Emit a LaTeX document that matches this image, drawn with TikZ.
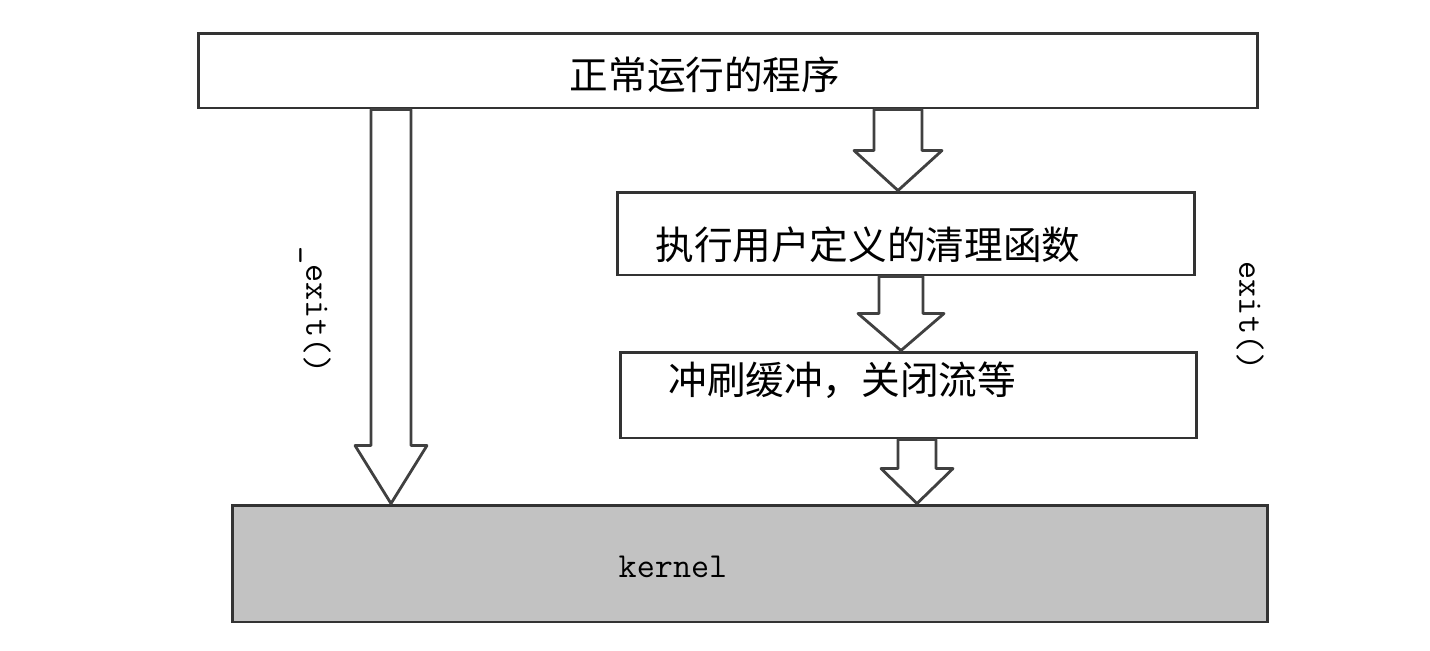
\documentclass[tikz,border=0pt]{standalone}
\usepackage{fontspec}
\newfontfamily\cjk{Noto Sans CJK SC}
\usetikzlibrary{calc}

\tikzset{
  stagebox/.style={draw=black!80, line width=1.7pt, fill=white, inner sep=0pt},
  kernelbox/.style={stagebox, fill=black!24},
  cjktext/.style={font=\cjk\fontsize{22}{26}\selectfont, inner sep=0pt},
  codetext/.style={font=\ttfamily\fontsize{20}{24}\selectfont, inner sep=0pt},
  fatarrow/.style={draw=black!75, line width=1.6pt, fill=white, line join=round}
}

\begin{document}
\begin{tikzpicture}[x=0.02cm, y=-0.02cm]
\useasboundingbox (0,0) rectangle (1430,650);
% stages
\node[stagebox, minimum width=21.2cm, minimum height=1.5cm] (prog) at (728,70.5) {};
\node[stagebox, minimum width=11.56cm, minimum height=1.66cm] (clean) at (906,233.5) {};
\node[stagebox, minimum width=11.54cm, minimum height=1.72cm] (flush) at (908.5,395) {};
\node[kernelbox, minimum width=20.72cm, minimum height=2.34cm] (kern) at (750,563.5) {};
% texts
\node[cjktext] (progtxt) at (705,75) {正常运行的程序};
\node[cjktext, anchor=west] (cleantxt) at (655,245) {执行用户定义的清理函数};
\node[cjktext, anchor=west] (flushtxt) at (668,380) {冲刷缓冲，关闭流等};
\node[codetext] (kerntxt) at (673,567) {kernel};
\node[codetext, rotate=-90] (fastexit) at (315,310) {\_exit()};
\node[codetext, rotate=-90] (normexit) at (1250,316) {exit()};
% fat arrows
\foreach \from/\to/\ax/\w/\h/\l in {prog/kern/391/20/36/58, prog/clean/898/24/44/40,
    clean/flush/901/22/43/37, flush/kern/917/19/36/35}{
  \coordinate (ax) at (\ax,0);
  \draw[fatarrow] ($(\from.south -| ax)+(-\w,0)$) -- ($(\to.north -| ax)+(-\w,-\l)$)
    -- ($(\to.north -| ax)+(-\h,-\l)$) -- (\to.north -| ax) -- ($(\to.north -| ax)+(\h,-\l)$)
    -- ($(\to.north -| ax)+(\w,-\l)$) -- ($(\from.south -| ax)+(\w,0)$) -- cycle;
}
\end{tikzpicture}
\end{document}
